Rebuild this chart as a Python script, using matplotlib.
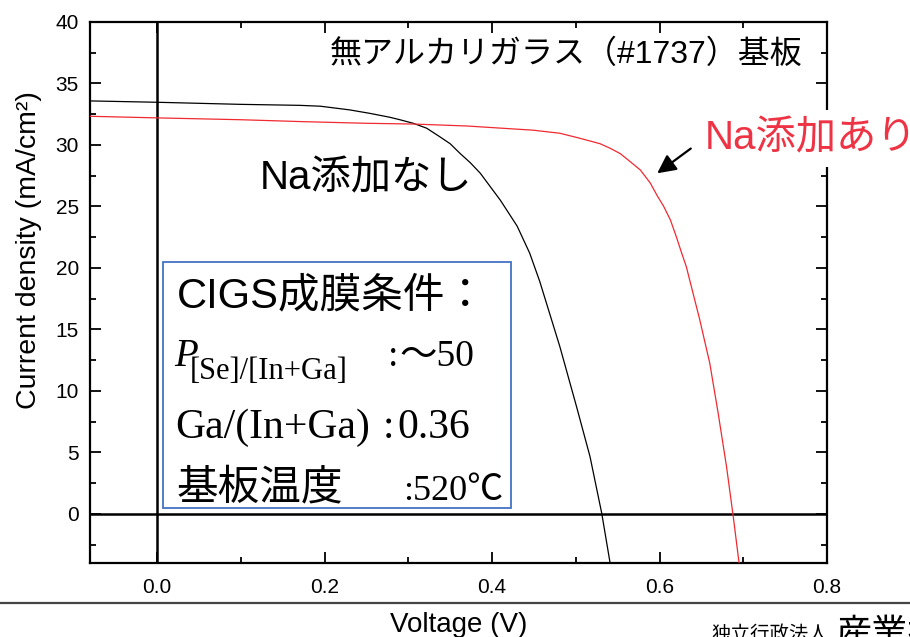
import matplotlib
matplotlib.use("Agg")
import matplotlib.pyplot as plt
from matplotlib.lines import Line2D
from matplotlib.patches import Rectangle
from matplotlib.ticker import MultipleLocator

plt.rcParams['font.family'] = ['Liberation Sans', 'Noto Sans CJK JP']
SERIF = ['Liberation Serif', 'Noto Sans CJK JP']

# J-V curves of CIGS cells on alkali-free glass
v_no_na = [-0.08, 0.0, 0.1, 0.17, 0.195, 0.23, 0.254, 0.278, 0.29, 0.306,
           0.322, 0.338, 0.35, 0.362, 0.374, 0.386, 0.398, 0.41, 0.43, 0.445,
           0.457, 0.481, 0.501, 0.517, 0.531, 0.541]
j_no_na = [33.58, 33.47, 33.3, 33.22, 33.15, 32.85, 32.57, 32.25, 32.05, 31.76,
           31.36, 30.65, 30.1, 29.3, 28.56, 27.7, 26.6, 25.5, 23.4, 21.2,
           18.9, 13.6, 8.7, 4.66, 0.05, -4.0]

v_na = [-0.08, 0.0, 0.1, 0.171, 0.25, 0.306, 0.37, 0.449, 0.481, 0.505,
        0.529, 0.541, 0.553, 0.565, 0.577, 0.589, 0.597, 0.605, 0.613, 0.62,
        0.626, 0.632, 0.648, 0.66, 0.67, 0.68, 0.688, 0.695]
j_na = [32.33, 32.2, 32.05, 31.9, 31.76, 31.7, 31.54, 31.2, 30.95, 30.54,
        30.1, 29.73, 29.3, 28.64, 27.97, 26.9, 25.9, 25.0, 23.9, 22.55,
        21.3, 20.1, 15.8, 12.25, 8.2, 3.85, -0.2, -4.0]

x_ticks = [0.0, 0.2, 0.4, 0.6, 0.8]
y_ticks = [0, 5, 10, 15, 20, 25, 30, 35, 40]

RED = '#ee3344'

fig = plt.figure(figsize=(9.1, 6.37), dpi=100)
ax = fig.add_axes([0.0989, 0.1162, 0.8099, 0.8493])

ax.axhline(0, color='black', lw=1.8, zorder=1)
ax.axvline(0, color='black', lw=1.8, zorder=1)
ax.plot(v_no_na, j_no_na, color='black', lw=0.9, zorder=3)
ax.plot(v_na, j_na, color='#f02a30', lw=0.9, zorder=3)

ax.set_xlim(-0.08, 0.8)
ax.set_ylim(-4, 40)
ax.set_xticks(x_ticks)
ax.set_xticklabels([f'{t:.1f}' for t in x_ticks])
ax.set_yticks(y_ticks)
ax.xaxis.set_minor_locator(MultipleLocator(0.1))
ax.yaxis.set_minor_locator(MultipleLocator(2.5))
ax.tick_params(which='both', direction='in', top=True, right=True, width=1.3,
               labelsize=15)
ax.tick_params(which='major', length=8)
ax.tick_params(which='minor', length=4.5)
ax.tick_params(axis='x', pad=11)
ax.tick_params(axis='y', pad=8)
for s in ax.spines.values():
    s.set_linewidth(1.6)

ax.set_ylabel('Current density (mA/cm²)', fontsize=20.5)
ax.yaxis.set_label_coords(-0.065, 0.579)

# annotations
ax.text(0.771, 37.3, '無アルカリガラス（#1737）基板', fontsize=23,
        ha='right', va='center')
ax.text(0.123, 27.3, 'Na添加なし', fontsize=29, ha='left', va='center')
ax.text(0.654, 30.5, 'Na添加あり', fontsize=29, color=RED, ha='left',
        va='center', zorder=5,
        bbox=dict(facecolor='white', edgecolor='none', pad=7))
ax.annotate('', xy=(0.5946, 27.56), xytext=(0.64, 29.84),
            arrowprops=dict(arrowstyle='-|>', color='black', lw=1.6,
                            mutation_scale=28), zorder=6)

# deposition conditions box
ax.add_patch(Rectangle((0.007, 0.5), 0.416, 20.0, facecolor='white',
                       edgecolor='#4472c4', lw=1.3, zorder=4))
ax.text(0.0235, 16.75, 'CIGS成膜条件：', fontsize=30, va='baseline', zorder=5)
ax.text(0.021, 12.0, 'P', fontsize=28, style='italic', family=SERIF,
        va='baseline', zorder=5)
ax.text(0.0394, 11.0, '[Se]/[In+Ga]', fontsize=22, family=SERIF,
        va='baseline', zorder=5)
ax.text(0.276, 12.0, ':', fontsize=27, family=SERIF, va='baseline', zorder=5)
ax.text(0.290, 12.0, '～50', fontsize=27, family=SERIF, va='baseline',
        zorder=5)
ax.text(0.0215, 6.2, 'Ga/(In+Ga)', fontsize=30, family=SERIF,
        va='baseline', zorder=5)
ax.text(0.269, 6.2, ':', fontsize=30, family=SERIF, va='baseline', zorder=5)
ax.text(0.2866, 6.2, '0.36', fontsize=30, family=SERIF, va='baseline',
        zorder=5)
ax.text(0.0235, 1.14, '基板温度', fontsize=30, va='baseline', zorder=5)
ax.text(0.294, 1.14, ':520℃', fontsize=26, family=SERIF, va='baseline',
        zorder=5)

# footer
fig.add_artist(Line2D([0, 1], [0.0534, 0.0534], color='#444444', lw=1.6,
                      transform=fig.transFigure))
fig.text(0.504, 0.008, 'Voltage (V)', fontsize=20, ha='center', va='baseline')
fig.text(0.782, -0.005, '独立行政法人', fontsize=14, va='baseline')
fig.text(0.918, -0.0126, '産業技術総合研究所', fontsize=26, va='baseline')

fig.savefig('out.png', dpi=100)
